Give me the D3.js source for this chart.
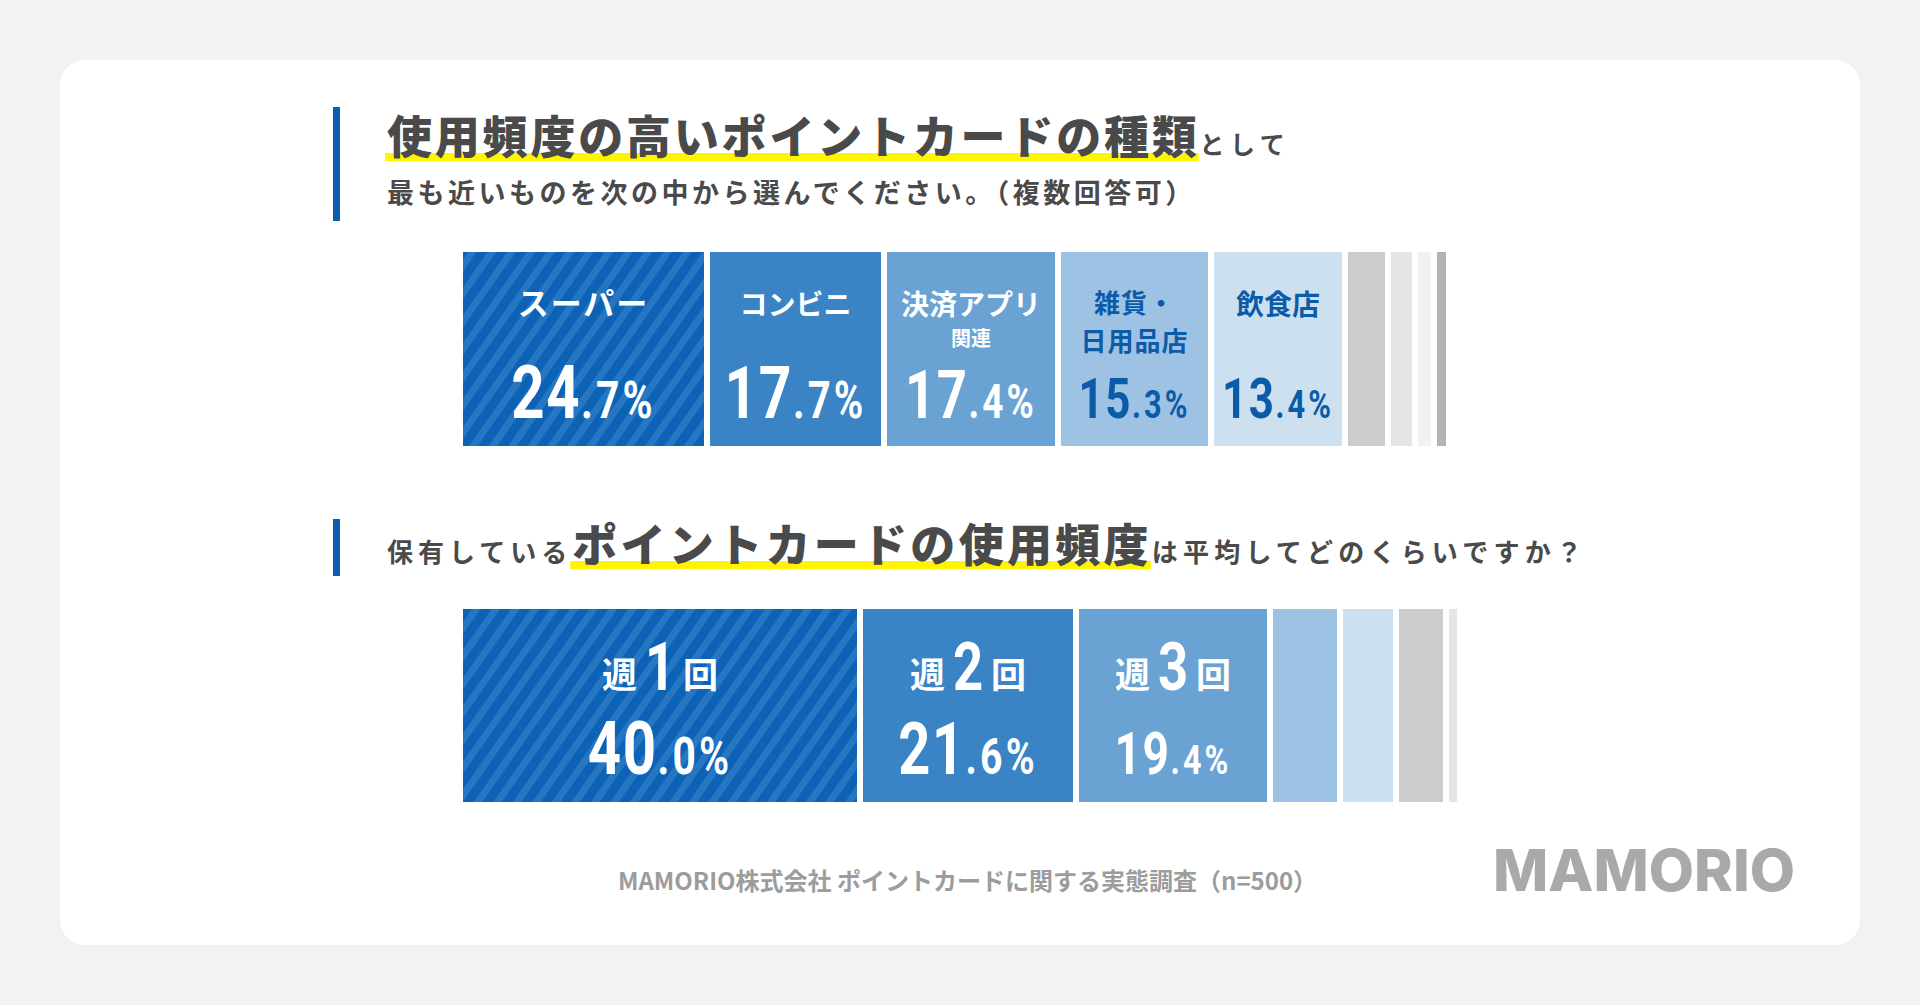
<!DOCTYPE html>
<html lang="ja">
<head>
<meta charset="utf-8">
<script src="https://cdn.jsdelivr.net/npm/d3@7"></script>
<style>
  html, body { margin: 0; padding: 0; background: #f2f2f2; }
  svg { display: block; }
  text { font-family: "Noto Sans CJK JP", "Noto Sans", sans-serif; }
</style>
</head>
<body>
<svg id="chart" width="1920" height="1005"></svg>
<script>
// Q1: 使用頻度の高いポイントカードの種類（複数回答可）
const q1Categories = ["スーパー", "コンビニ", "決済アプリ\n関連", "雑貨・\n日用品店", "飲食店", "その他1", "その他2", "その他3", "その他4"];
const q1Values = [24.7, 17.7, 17.4, 15.3, 13.4, 4.3, 2.7, 1.9, 1.5];
const q1Labelled = 5;

// Q2: 保有しているポイントカードの使用頻度
const q2Categories = ["週1回", "週2回", "週3回", "その他1", "その他2", "その他3", "その他4"];
const q2Values = [40.0, 21.6, 19.4, 7.0, 5.6, 5.0, 1.4];
const q2Labelled = 3;

// styles (kept apart from the data)
const q1Colors = ["url(#stripe)", "#3a83c5", "#6aa3d3", "#9dc2e3", "#cde0f0", "#cccccc", "#e5e5e5", "#f2f2f2", "#b3b3b3"];
const q1TextColors = ["#fff", "#fff", "#fff", "#0b5ba8", "#0b5ba8"];
const q1NumCap = [53, 52, 48, 40, 40];
const q1LabelSize = [[31], [28], [28, 20], [26, 26], [28]];

const q2Colors = ["url(#stripe)", "#3a83c5", "#6aa3d3", "#9dc2e3", "#cde0f0", "#cccccc", "#e5e5e5"];
const q2NumCap = [53, 51, 42];

const svg = d3.select("#chart");
const width = +svg.attr("width"), height = +svg.attr("height");
const textColor = "#4a4a4a";
const accent = "#0b5fb0";
const gap = 6;
const squeeze = 0.78; // condensed digits

const defs = svg.append("defs");
const pat = defs.append("pattern")
  .attr("id", "stripe")
  .attr("patternUnits", "userSpaceOnUse")
  .attr("width", 16).attr("height", 16)
  .attr("patternTransform", "rotate(35)");
pat.append("rect").attr("width", 16).attr("height", 16).attr("fill", "#0c63b6");
pat.append("rect").attr("width", 7).attr("height", 16).attr("fill", "#2676c2");

// card
svg.append("rect")
  .attr("x", 60).attr("y", 60)
  .attr("width", width - 120).attr("height", 885)
  .attr("rx", 25).attr("fill", "#fff");

const x = d3.scaleLinear().domain([0, 100]).range([463, 1463]);

// heading with highlighted part
function heading(y, parts, barTop, barH) {
  svg.append("rect")
    .attr("x", 333).attr("y", barTop)
    .attr("width", 7).attr("height", barH)
    .attr("fill", accent);
  const hl = svg.append("g");
  const t = svg.append("text")
    .attr("x", 387).attr("y", y)
    .attr("fill", textColor)
    .attr("font-weight", 700);
  parts.forEach(p => {
    const s = t.append("tspan")
      .attr("font-size", p.size)
      .attr("letter-spacing", p.ls)
      .attr("font-weight", p.mark ? 900 : 700)
      .text(p.text);
    if (p.mark) {
      const b = s.node().getBBox();
      hl.append("rect")
        .attr("x", b.x - 2).attr("y", y - 1)
        .attr("width", b.width + 1).attr("height", 8)
        .attr("fill", "#fff500");
    }
  });
}

heading(154, [
  { text: "使用頻度の高いポイントカードの種類", size: 45, ls: 2.8, mark: true },
  { text: "として", size: 25, ls: 5.5 }
], 107, 114);

svg.append("text")
  .attr("x", 387).attr("y", 203)
  .attr("fill", textColor)
  .attr("font-weight", 700)
  .attr("font-size", 27)
  .attr("letter-spacing", 3.5)
  .text("最も近いものを次の中から選んでください。（複数回答可）");

heading(562, [
  { text: "保有している", size: 26, ls: 5 },
  { text: "ポイントカードの使用頻度", size: 45, ls: 3.3, mark: true },
  { text: "は平均してどのくらいですか？", size: 26, ls: 5.2 }
], 519, 57);

// percentage in condensed digits
function pct(g, cx, base, v, cap, color) {
  const parts = v.toFixed(1).split(".");
  const big = cap / 0.711;
  const t = g.append("text")
    .attr("transform", `translate(${cx},${base}) scale(${squeeze},1)`)
    .attr("text-anchor", "middle")
    .attr("fill", color)
    .style("font-family", "Roboto, 'DejaVu Sans', sans-serif")
    .attr("font-weight", 700);
  t.append("tspan").attr("font-size", big).attr("letter-spacing", 2).text(parts[0]);
  t.append("tspan").attr("font-size", big * 0.7).attr("letter-spacing", 4).text("." + parts[1] + "%");
}

function segments(values, top, h) {
  let cum = 0;
  return values.map((v, i) => {
    const x0 = x(cum);
    cum += v;
    return { i, v, x0, w: x(cum) - x0 - gap, top, h };
  });
}

// chart 1
const top1 = 252, h1 = 194;
const seg1 = segments(q1Values, top1, h1);
const g1 = svg.append("g");
g1.selectAll("rect").data(seg1).join("rect")
  .attr("x", d => d.x0).attr("y", top1)
  .attr("width", d => d.w).attr("height", h1)
  .attr("fill", d => q1Colors[d.i]);

seg1.slice(0, q1Labelled).forEach(d => {
  const cx = d.x0 + d.w / 2;
  const col = q1TextColors[d.i];
  const lines = q1Categories[d.i].split("\n");
  const small = q1LabelSize[d.i][1] < 24;
  lines.forEach((ln, k) => {
    const sz = q1LabelSize[d.i][k];
    const y0 = lines.length > 1 && !small ? top1 + 61 : top1 + 63;
    g1.append("text")
      .attr("text-anchor", "middle")
      .attr("fill", col)
      .attr("font-weight", 700)
      .attr("x", cx)
      .attr("y", k === 0 ? y0 : y0 + (small ? 31 : 38))
      .attr("font-size", sz)
      .attr("letter-spacing", d.i === 0 ? 2 : (lines.length > 1 && !small ? 1 : 0))
      .text(ln);
  });
  pct(g1, cx, top1 + 166, d.v, q1NumCap[d.i], col);
});

// chart 2
const top2 = 609, h2 = 193;
const seg2 = segments(q2Values, top2, h2);
const g2 = svg.append("g");
g2.selectAll("rect").data(seg2).join("rect")
  .attr("x", d => d.x0).attr("y", top2)
  .attr("width", d => d.w).attr("height", h2)
  .attr("fill", d => q2Colors[d.i]);

seg2.slice(0, q2Labelled).forEach(d => {
  const cx = d.x0 + d.w / 2;
  const m = q2Categories[d.i].match(/^(\D+)(\d+)(\D+)$/);
  g2.append("text")
    .attr("x", cx - 23).attr("y", top2 + 79)
    .attr("text-anchor", "end")
    .attr("fill", "#fff").attr("font-weight", 700).attr("font-size", 35)
    .text(m[1]);
  g2.append("text")
    .attr("transform", `translate(${cx},${top2 + 81}) scale(${squeeze},1)`)
    .attr("text-anchor", "middle")
    .attr("fill", "#fff")
    .style("font-family", "Roboto, 'DejaVu Sans', sans-serif")
    .attr("font-weight", 700).attr("font-size", 48 / 0.711)
    .text(m[2]);
  g2.append("text")
    .attr("x", cx + 23).attr("y", top2 + 79)
    .attr("text-anchor", "start")
    .attr("fill", "#fff").attr("font-weight", 700).attr("font-size", 35)
    .text(m[3]);
  pct(g2, cx, top2 + 165, d.v, q2NumCap[d.i], "#fff");
});

// footer
svg.append("text")
  .attr("x", 618).attr("y", 890)
  .attr("fill", "#9c9c9c")
  .attr("font-weight", 700).attr("font-size", 24)
  .text("MAMORIO株式会社 ポイントカードに関する実態調査（n=500）");

svg.append("text")
  .attr("x", 1493).attr("y", 891)
  .attr("fill", "#a9a9a9")
  .style("font-family", "Inter, 'Open Sans', sans-serif")
  .attr("font-weight", 800).attr("font-size", 58)
  .attr("textLength", 302).attr("lengthAdjust", "spacingAndGlyphs")
  .text("MAMORIO");
</script>
</body>
</html>
